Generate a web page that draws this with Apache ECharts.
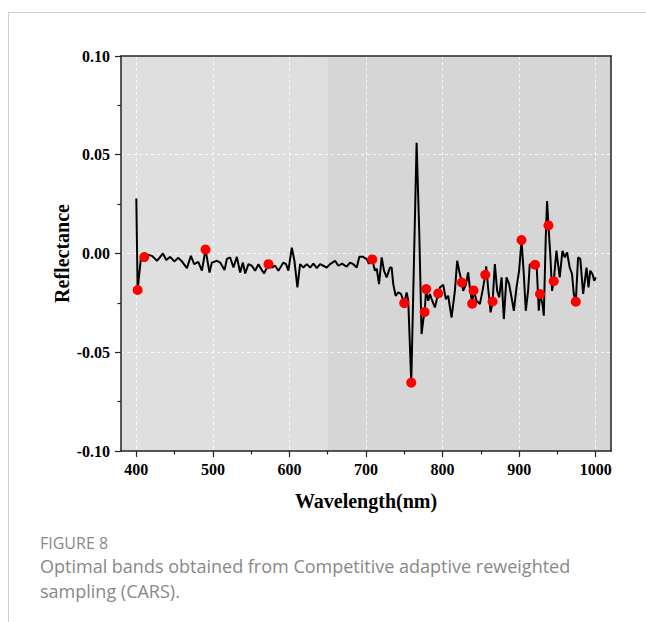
<!DOCTYPE html>
<html>
<head>
<meta charset="utf-8">
<script src="https://cdn.jsdelivr.net/npm/echarts@6/dist/echarts.min.js"></script>
<style>
html,body{margin:0;padding:0;background:#fff;}
#chart{width:646px;height:622px;}
</style>
</head>
<body>
<div id="chart"></div>
<script>
// Spectrum (wavelength in nm, reflectance)
const wavelength = [400,401.7,406.1,410.4,415.7,420.5,427.0,434.8,439.1,444.3,449.6,454.8,460.0,466.1,471.3,475.6,480.9,485.7,490.4,495.6,498.7,505.3,509.6,515.2,518.3,522.6,526.9,531.3,535.6,539.2,542.2,546.5,550.9,555.2,559.5,563.9,567.0,572.6,577.0,581.3,585.6,592.1,595.6,598.6,603.1,606.5,610.4,613.9,618.2,622.6,627.0,631.3,635.7,640.0,644.3,648.7,653.0,659.6,663.9,668.7,674.8,679.1,683.4,687.9,691.3,696.1,700.9,703.9,708.2,711.7,714.0,717.0,720.5,723.5,727.0,731.3,733.5,735.6,738.7,742.1,745.6,749.9,753.1,755.2,759.1,766.1,769.5,772.6,774.7,776.6,778.6,781.3,783.5,785.7,790.0,794.3,796.5,800.8,804.3,807.3,811.8,816.1,819.1,821.7,825.2,826.9,830.4,833.4,835.6,838.7,840.5,844.4,848.7,852.2,855.8,857.0,859.5,862.7,865.3,868.3,871.3,873.9,877.1,880.0,883.5,886.9,890.1,893.1,896.6,900.0,903.1,906.1,908.7,911.7,913.9,917.4,920.8,923.0,925.7,927.3,930.5,932.2,934.8,936.5,938.3,940.9,943.0,945.2,948.7,950.8,953.0,956.6,959.6,962.6,966.1,969.1,971.4,974.0,977.0,979.9,983.6,988.0,990.6,992.9,995.8,998.1,1000.0];
const reflectance = [0.0279,-0.0185,-0.0020,-0.0018,-0.0007,-0.0012,-0.0037,0.0000,-0.0033,-0.0017,-0.0040,-0.0022,-0.0042,-0.0074,-0.0012,-0.0054,-0.0042,-0.0087,0.0020,-0.0096,-0.0046,-0.0037,-0.0046,-0.0084,-0.0027,-0.0020,-0.0071,-0.0017,-0.0096,-0.0046,-0.0101,-0.0054,-0.0062,-0.0087,-0.0054,-0.0084,-0.0101,-0.0054,-0.0071,-0.0062,-0.0087,-0.0046,-0.0054,-0.0087,0.0030,-0.0037,-0.0172,-0.0054,-0.0071,-0.0054,-0.0071,-0.0051,-0.0074,-0.0054,-0.0062,-0.0071,-0.0054,-0.0037,-0.0062,-0.0051,-0.0067,-0.0046,-0.0054,-0.0071,-0.0017,-0.0017,-0.0028,-0.0052,-0.0030,-0.0087,-0.0077,-0.0155,-0.0020,-0.0087,-0.0121,-0.0071,-0.0072,-0.0155,-0.0214,-0.0197,-0.0204,-0.0251,-0.0197,-0.0239,-0.0654,0.0561,0.0115,-0.0408,-0.0340,-0.0296,-0.0180,-0.0239,-0.0205,-0.0231,-0.0273,-0.0202,-0.0172,-0.0158,-0.0231,-0.0214,-0.0324,-0.0189,-0.0037,-0.0087,-0.0147,-0.0189,-0.0158,-0.0096,-0.0172,-0.0254,-0.0187,-0.0239,-0.0256,-0.0189,-0.0108,-0.0065,-0.0173,-0.0298,-0.0243,-0.0054,-0.0189,-0.0222,-0.0121,-0.0332,-0.0121,-0.0155,-0.0222,-0.0290,-0.0172,-0.0087,0.0068,-0.0104,-0.0290,-0.0189,-0.0054,-0.0062,-0.0057,-0.0071,-0.0290,-0.0205,-0.0256,-0.0315,0.0081,0.0266,0.0142,-0.0020,-0.0189,-0.0140,0.0014,-0.0054,-0.0121,0.0014,-0.0020,0.0005,-0.0071,-0.0104,-0.0205,-0.0244,-0.0020,-0.0027,-0.0205,-0.0071,-0.0172,-0.0087,-0.0104,-0.0138,-0.0121];

// CARS selected bands (red points)
const carsWavelength = [401.7,410.4,490.4,572.6,708.2,749.9,759.1,776.6,778.6,794.3,825.2,838.7,840.5,855.8,865.3,903.1,920.8,927.3,938.3,945.2,974.0];
const carsReflectance = [-0.0185,-0.0018,0.0020,-0.0054,-0.0030,-0.0251,-0.0654,-0.0296,-0.0180,-0.0202,-0.0147,-0.0254,-0.0187,-0.0108,-0.0243,0.0068,-0.0057,-0.0205,0.0142,-0.0140,-0.0244];

// Axis ticks
const xTicks = [400,500,600,700,800,900,1000];
const xRange = [380,1020];
const yRange = [-0.10,0.10];
const yInterval = 0.05;
const shadeSplit = 650;

// Labels
const xName = 'Wavelength(nm)';
const yName = 'Reflectance';
const figLabel = 'FIGURE 8';
const captionLines = ['Optimal bands obtained from Competitive adaptive reweighted','sampling (CARS).'];

const lineData = wavelength.map((w,i)=>[w,reflectance[i]]);
const carsData = carsWavelength.map((w,i)=>[w,carsReflectance[i]]);

const serif = '"Liberation Serif","Times New Roman",serif';
const chart = echarts.init(document.getElementById('chart'), null, {renderer:'svg'});
chart.setOption({
  animation:false,
  backgroundColor:'#ffffff',
  grid:{left:121,right:35,top:56,bottom:171,show:true,backgroundColor:'#dfdfdf',borderWidth:0},
  xAxis:[{
    type:'value',min:xRange[0],max:xRange[1],position:'bottom',z:3,
    name:xName,nameLocation:'middle',nameGap:40,nameMoveOverlap:false,
    nameTextStyle:{fontFamily:serif,fontWeight:'bold',fontSize:20,color:'#000'},
    axisLine:{show:true,onZero:false,lineStyle:{color:'#222',width:1.5}},
    axisTick:{show:true,inside:false,length:6,customValues:xTicks,lineStyle:{color:'#222',width:1.2}},
    minorTick:{show:true,splitNumber:2,length:3.5,lineStyle:{color:'#222',width:1.2}},
    axisLabel:{customValues:xTicks,margin:10,fontFamily:serif,fontWeight:'bold',fontSize:16,color:'#000',
      formatter:v=>String(v)},
    splitLine:{show:true,lineStyle:{color:'#ffffff',type:[3,3],width:0.8}}
  },{
    type:'value',min:xRange[0],max:xRange[1],position:'top',z:3,
    axisLine:{show:true,onZero:false,lineStyle:{color:'#222',width:1.5}},
    axisTick:{show:false},axisLabel:{show:false},splitLine:{show:false}
  }],
  yAxis:[{
    type:'value',min:yRange[0],max:yRange[1],interval:yInterval,position:'left',z:3,
    name:yName,nameLocation:'middle',nameGap:49,nameRotate:90,nameMoveOverlap:false,
    nameTextStyle:{fontFamily:serif,fontWeight:'bold',fontSize:20,color:'#000'},
    axisLine:{show:true,onZero:false,lineStyle:{color:'#222',width:1.5}},
    axisTick:{show:true,inside:false,length:6,lineStyle:{color:'#222',width:1.2}},
    minorTick:{show:true,splitNumber:2,length:3.5,lineStyle:{color:'#222',width:1.2}},
    axisLabel:{margin:11,fontFamily:serif,fontWeight:'bold',fontSize:16,color:'#000',
      formatter:v=>v.toFixed(2)},
    splitLine:{show:true,lineStyle:{color:'#ffffff',type:[3,3],width:0.8}}
  },{
    type:'value',min:yRange[0],max:yRange[1],interval:yInterval,position:'right',z:3,
    axisLine:{show:true,onZero:false,lineStyle:{color:'#222',width:1.5}},
    axisTick:{show:false},axisLabel:{show:false},splitLine:{show:false}
  }],
  series:[{
    type:'line',data:lineData,xAxisIndex:0,yAxisIndex:0,z:5,
    showSymbol:false,symbol:'none',
    lineStyle:{color:'#000',width:2},
    markArea:{silent:true,z:1,itemStyle:{color:'#d6d6d6'},
      data:[[{xAxis:shadeSplit},{xAxis:xRange[1]}]]}
  },{
    type:'scatter',data:carsData,xAxisIndex:0,yAxisIndex:0,z:6,
    symbol:'circle',symbolSize:10,itemStyle:{color:'#ff0000',opacity:1}
  }],
  graphic:[
    {type:'line',shape:{x1:8,y1:12.5,x2:646,y2:12.5},style:{stroke:'#cfcfcf',lineWidth:1},silent:true},
    {type:'line',shape:{x1:8.5,y1:12,x2:8.5,y2:622},style:{stroke:'#cfcfcf',lineWidth:1},silent:true},
    {type:'text',left:40,top:535,style:{text:figLabel,font:'16px "Open Sans", sans-serif',fill:'#888888'}},
    {type:'text',left:40,top:557,style:{text:captionLines[0],font:'18px "Open Sans", sans-serif',fill:'#888888'}},
    {type:'text',left:40,top:582,style:{text:captionLines[1],font:'18px "Open Sans", sans-serif',fill:'#888888'}}
  ]
});
</script>
</body>
</html>
